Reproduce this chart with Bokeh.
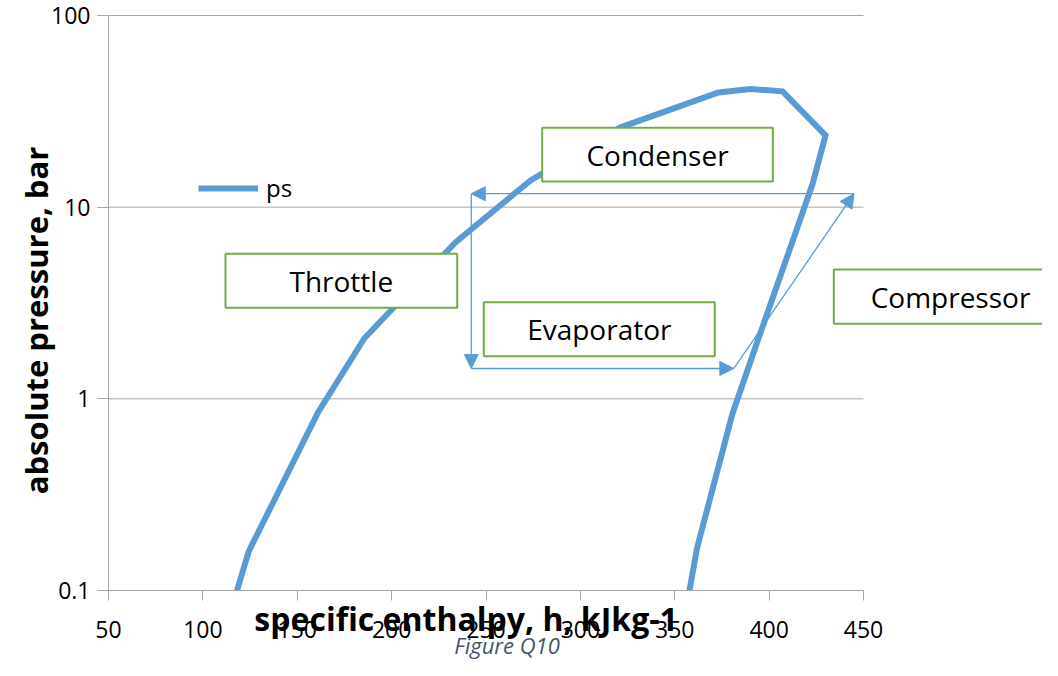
import math
from bokeh.plotting import figure
from bokeh.models import (Range1d, FixedTicker, Label, Arrow, NormalHead, Legend,
                          LegendItem, PrintfTickFormatter)
from bokeh.embed import file_html
from bokeh.resources import INLINE

# ---------------- data ----------------
x_ticks = [50, 100, 150, 200, 250, 300, 350, 400, 450]
y_ticks = [0.1, 1, 10, 100]
y_tick_labels = ["0.1", "1", "10", "100"]
grid_levels = [1, 10, 100]

# saturation dome "ps": specific enthalpy (kJ/kg) and absolute pressure (bar)
ps_h = [118.1, 124.3, 161.0, 185.6, 233.8, 273.6, 321.3, 373.2, 390.1, 407.1,
        429.9, 423.0, 412.2, 394.4, 380.6, 361.9, 357.8]
ps_p = [0.100, 0.160, 0.849, 2.07, 6.55, 13.8, 26.1, 39.7, 41.4, 40.2,
        23.7, 13.2, 6.55, 2.07, 0.839, 0.168, 0.100]

# refrigeration cycle: condenser -> throttle -> evaporator -> compressor
cycle_h = [445.0, 242.2, 242.2, 381.3, 445.0]
cycle_p = [11.76, 11.76, 1.44, 1.44, 11.76]

box_names = ["Condenser", "Throttle", "Evaporator", "Compressor"]
x_title = "specific enthalpy, h, kJkg-1"
y_title = "absolute pressure, bar"
caption = "Figure Q10"

# ---------------- layout (the frame fills the whole canvas) ----------------
W, H = 1042, 660
AX_L, AX_T, AX_B = 108, 15, 590          # axis box in canvas pixels
PX_PER_H = 1.8875
PX_PER_DEC = (AX_B - AX_T) / 3.0
X_START = 50 - AX_L / PX_PER_H
X_END = 50 + (W - AX_L) / PX_PER_H
Y_TOP = 10 ** (2 + AX_T / PX_PER_DEC)
Y_BOTTOM = 10 ** (-1 - (H - AX_B) / PX_PER_DEC)


def hx(px):
    return 50 + (px - AX_L) / PX_PER_H


def py(pyy):
    return 10 ** (2 - (pyy - AX_T) / PX_PER_DEC)


BLUE = "#5B9BD5"
GREEN = "#70AD47"
GRAY = "#A6A6A6"
FONT = "Open Sans"

p = figure(width=W, height=H, x_range=Range1d(X_START, X_END),
           y_range=Range1d(Y_BOTTOM, Y_TOP), y_axis_type="log",
           output_backend="svg", toolbar_location=None,
           min_border_left=0, min_border_right=0, min_border_top=0, min_border_bottom=0)
p.outline_line_color = None
p.grid.visible = False
p.background_fill_color = "white"
p.border_fill_color = "white"

# axes drawn at fixed positions inside the frame
p.xaxis.fixed_location = 0.1
p.yaxis.fixed_location = 50
p.xaxis.ticker = FixedTicker(ticks=x_ticks, minor_ticks=[])
p.xaxis.bounds = (50, 450)
p.yaxis.ticker = FixedTicker(ticks=y_ticks, minor_ticks=[])
p.yaxis.bounds = (0.1, 100)
p.yaxis.formatter = PrintfTickFormatter(format="%g")
p.yaxis.major_label_overrides = dict(zip(y_ticks, y_tick_labels))
for ax in (p.xaxis[0], p.yaxis[0]):
    ax.axis_line_color = GRAY
    ax.major_tick_line_color = GRAY
    ax.major_tick_in = 0
    ax.minor_tick_out = 0
    ax.minor_tick_in = 0
    ax.major_label_text_font = FONT
    ax.major_label_text_font_size = "23px"
    ax.major_label_text_color = "black"
p.xaxis.major_tick_out = 10
p.xaxis.major_label_standoff = 20
p.yaxis.major_tick_out = 11
p.yaxis.major_label_standoff = 7

# horizontal gridlines
p.segment(x0=[50] * len(grid_levels), x1=[450] * len(grid_levels),
          y0=grid_levels, y1=grid_levels, line_color=GRAY, line_width=1)

# curve
r = p.line(ps_h, ps_p, line_width=6, line_color=BLUE, line_join="miter")

# text boxes (canvas pixel geometry)
box_px = [(541.7, 772.3, 127.3, 181.0),
          (225.0, 456.7, 253.3, 307.3),
          (483.3, 714.3, 301.7, 355.7),
          (833.3, 1064.3, 269.0, 323.3)]
text_px = [(657.0, 154.2), (340.8, 280.3), (598.8, 328.7), (950.0, 296.2)]
p.quad(left=[hx(b[0]) for b in box_px], right=[hx(b[1]) for b in box_px],
       top=[py(b[2]) for b in box_px], bottom=[py(b[3]) for b in box_px],
       fill_color="white", line_color=GREEN, line_width=2)
for name, (tx, ty) in zip(box_names, text_px):
    p.add_layout(Label(x=hx(tx), y=py(ty), text=name, text_align="center",
                       text_baseline="middle", text_font=FONT,
                       text_font_size="28px", text_color="black"))

# cycle arrows
for i in range(len(cycle_h) - 1):
    p.add_layout(Arrow(start=None,
                       end=NormalHead(size=14, fill_color=BLUE, line_color=BLUE, line_width=1),
                       x_start=cycle_h[i], y_start=cycle_p[i],
                       x_end=cycle_h[i + 1], y_end=cycle_p[i + 1],
                       line_color=BLUE, line_width=1.3))

# legend
legend = Legend(items=[LegendItem(label="ps", renderers=[r])], location=(198, 456),
                glyph_width=60, glyph_height=20, label_standoff=8, padding=0, margin=0,
                border_line_color=None, background_fill_alpha=0,
                label_text_font=FONT, label_text_font_size="24px",
                label_text_color="black")
p.add_layout(legend)

# axis titles and caption
p.add_layout(Label(x=hx(465.6), y=py(618), text=x_title, text_align="center",
                   text_baseline="alphabetic", text_font=FONT, text_font_size="32px",
                   text_font_style="bold", text_color="black"))
p.add_layout(Label(x=hx(35), y=py(320), text=y_title, angle=math.pi / 2,
                   text_align="center", text_baseline="alphabetic", text_font=FONT,
                   text_font_size="31px", text_font_style="bold", text_color="black"))
p.add_layout(Label(x=hx(506.5), y=py(644), text=caption, text_align="center",
                   text_baseline="alphabetic", text_font=FONT, text_font_size="22px",
                   text_font_style="italic", text_color="#44546A"))

open("out.html", "w").write(file_html(p, INLINE))
